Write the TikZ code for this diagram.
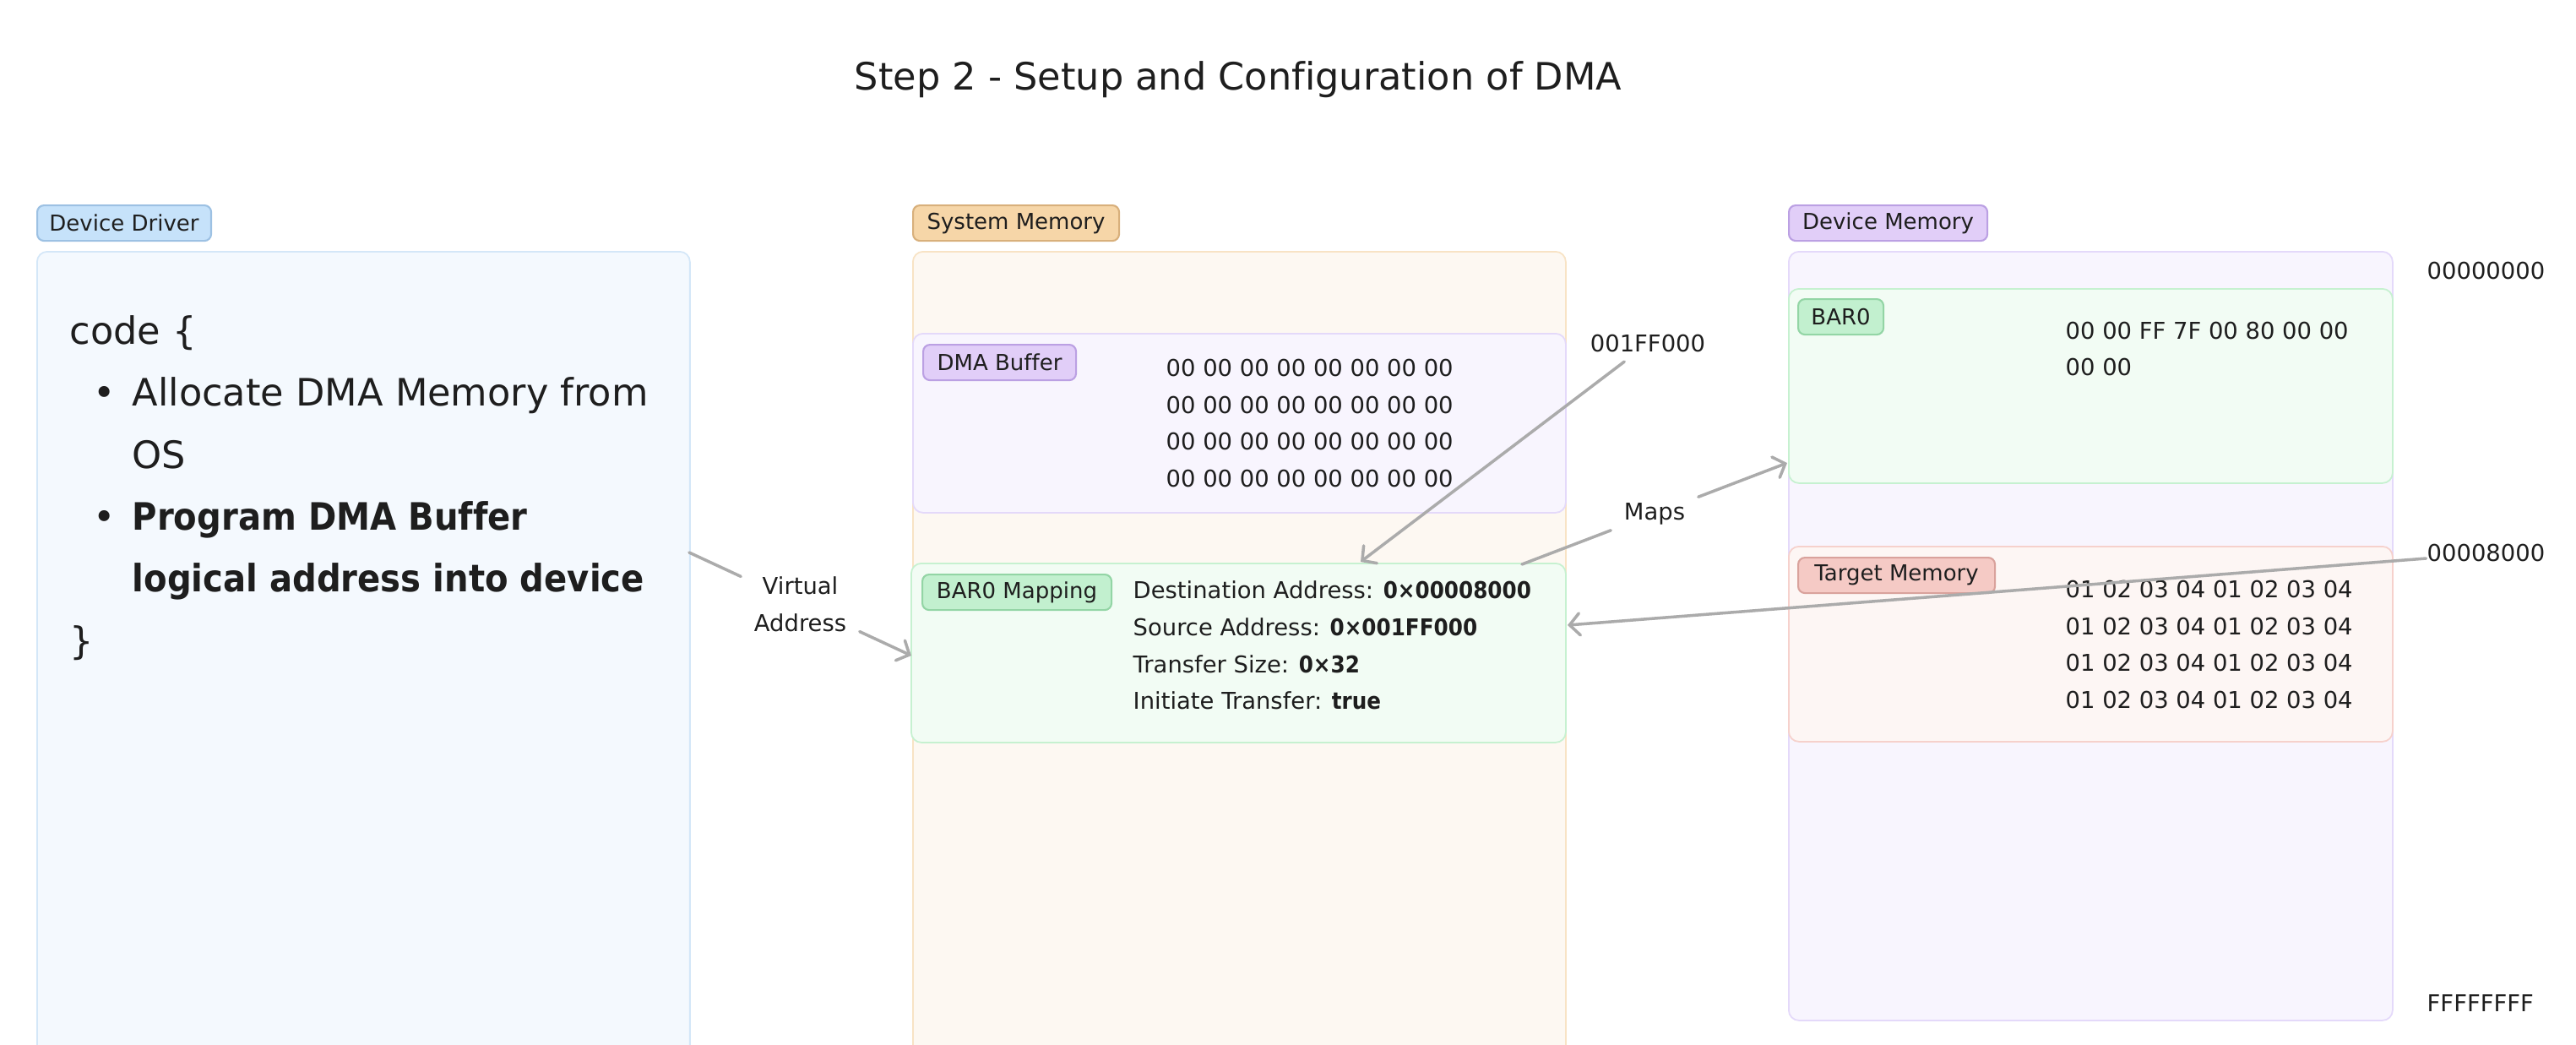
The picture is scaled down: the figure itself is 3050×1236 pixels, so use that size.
\documentclass[tikz,border=0pt]{standalone}
\usepackage{fontspec}
\setmainfont{DejaVu Sans}[Ligatures={NoCommon}, BoldFeatures={FakeStretch=0.9}]
\usetikzlibrary{calc,arrows.meta}

\definecolor{ink}{HTML}{1E1E1E}
\definecolor{wire}{HTML}{ABABAB}
\definecolor{drvtag}{HTML}{C6E2FA}  \definecolor{drvtagline}{HTML}{9DC1E3}
\definecolor{drvfill}{HTML}{F4F9FE} \definecolor{drvline}{HTML}{D4E7F8}
\definecolor{systag}{HTML}{F6D6A8}  \definecolor{systagline}{HTML}{D8B07C}
\definecolor{sysfill}{HTML}{FDF8F2} \definecolor{sysline}{HTML}{F8E3C5}
\definecolor{lilac}{HTML}{E1CEF8}   \definecolor{lilacline}{HTML}{BBA0E3}
\definecolor{lilacfill}{HTML}{F8F5FE} \definecolor{lilacedge}{HTML}{E4D9FA}
\definecolor{mint}{HTML}{C2F0CF}    \definecolor{mintline}{HTML}{93D5A5}
\definecolor{mintfill}{HTML}{F2FCF4} \definecolor{mintedge}{HTML}{C6F1D0}
\definecolor{rose}{HTML}{F5CAC5}    \definecolor{roseline}{HTML}{D9A29C}
\definecolor{rosefill}{HTML}{FDF6F4} \definecolor{roseedge}{HTML}{F6D1CC}

\newcommand{\bodyfont}{\fontsize{7.8}{12.4}\selectfont}
\newcommand{\tagfont}{\fontsize{7.4}{9}\selectfont}
\newcommand{\codefont}{\fontsize{12.7}{20.85}\selectfont}

\tikzset{
   tag/.style args={#1/#2}{fill=#1, draw=#2, line width=0.6pt, rounded corners=0.8mm,
      anchor=north west, inner xsep=1.4mm, inner ysep=0pt, minimum height=4.2mm, font=\tagfont},
   region/.style args={#1/#2}{fill=#1, draw=#2, line width=0.5pt, rounded corners=1.2mm,
      anchor=north west, inner sep=0pt},
   hex/.style={anchor=west, align=left, inner sep=0pt, font=\bodyfont},
   link/.style={wire, line width=1pt, line cap=round},
   tip/.style={-{Straight Barb[length=1.2mm,width=2.6mm,line cap=round]}}
}

\newcommand{\midarrowlabel}[4]{
   \node[font=\bodyfont, align=center, inner sep=1.5mm] (#4) at ($ (#1)!.5!(#2) $) {#3};
   \draw[link] (#1) -- (#4);
   \draw[link, tip] (#4) -- (#2);
}

\begin{document}
\begin{tikzpicture}[x=0.1mm, y=-0.1mm, color=ink]
		\useasboundingbox (0,0) rectangle (3050,1236);

		% Title
		\node[font=\fontsize{12.7}{15}\selectfont] (title) at (1466,94) {Step 2 - Setup and Configuration of DMA};

		% Device driver
		\node[region=drvfill/drvline, minimum width=77.3mm, minimum height=96mm] (drv) at (43,297) {};
		\node[tag=drvtag/drvtagline, minimum width=20.6mm] (drvtag) at (43,242) {Device Driver};
		\node[anchor=north west, align=left, inner sep=0pt, font=\codefont] (code) at (82,373) {code \{\\
			\hspace*{2.8mm}\makebox[4.6mm][l]{\textbullet}Allocate DMA Memory from\\
			\hspace*{7.4mm}OS\\
			\hspace*{2.8mm}\makebox[4.6mm][l]{\textbullet}\textbf{Program DMA Buffer}\\
			\hspace*{7.4mm}\textbf{logical address into device}\\
			\}};

		% System memory
		\node[region=sysfill/sysline, minimum width=77.3mm, minimum height=96mm] (sys) at (1080,297) {};
		\node[tag=systag/systagline, minimum width=24.4mm] (systag) at (1080,242) {System Memory};
		%
		\node[region=lilacfill/lilacedge, minimum width=77.3mm, minimum height=21.2mm] (buf) at (1080,394) {};
		\node[tag=lilac/lilacline, minimum width=18.1mm] (buftag) at (1092,407) {DMA Buffer};
		\node[hex] (bufhex) at (1380,501) {00 00 00 00 00 00 00 00\\00 00 00 00 00 00 00 00\\00 00 00 00 00 00 00 00\\00 00 00 00 00 00 00 00};
		%
		\node[region=mintfill/mintedge, minimum width=77.5mm, minimum height=21.2mm] (map) at (1078,666) {};
		\node[tag=mint/mintline, minimum width=22.4mm] (maptag) at (1091,679) {BAR0 Mapping};
		\node[hex] (mapregs) at (1341,764) {Destination Address: \textbf{0×00008000}\\Source Address: \textbf{0×001FF000}\\Transfer Size: \textbf{0×32}\\Initiate Transfer: \textbf{true}};

		% Device memory
		\node[region=lilacfill/lilacedge, minimum width=71.5mm, minimum height=91mm] (dev) at (2117,297) {};
		\node[tag=lilac/lilacline, minimum width=23.5mm] (devtag) at (2117,242) {Device Memory};
		%
		\node[region=mintfill/mintedge, minimum width=71.5mm, minimum height=23mm] (bar) at (2117,341) {};
		\node[tag=mint/mintline, minimum width=10.1mm] (bartag) at (2128,353) {BAR0};
		\node[hex] (barhex) at (2445,413) {00 00 FF 7F 00 80 00 00\\00 00};
		%
		\node[region=rosefill/roseedge, minimum width=71.5mm, minimum height=23.1mm] (tgt) at (2117,646) {};
		\node[tag=rose/roseline, minimum width=23.3mm] (tgttag) at (2128,659) {Target Memory};
		\node[hex] (tgthex) at (2445,763) {01 02 03 04 01 02 03 04\\01 02 03 04 01 02 03 04\\01 02 03 04 01 02 03 04\\01 02 03 04 01 02 03 04};

		% Addresses
		\node[hex] (addrlow) at (2873,321) {00000000};
		\node[hex] (addrtgt) at (2873,655) {00008000};
		\node[hex] (addrhigh) at (2873,1187) {FFFFFFFF};
		\node[font=\bodyfont, inner sep=1mm] (addrbuf) at (1951,407) {001FF000};

		% Arrows
		\coordinate (vstart) at (816,654);
		\coordinate (vend) at (1079,776);
		\midarrowlabel{vstart}{vend}{Virtual\\Address}{virt}
		%
		\coordinate (mstart) at (1802,668);
		\coordinate (mend) at (2116,548);
		\midarrowlabel{mstart}{mend}{Maps}{maps}
		%
		\coordinate (srcin) at (1611,665);
		\draw[link, tip] (addrbuf) -- (srcin);
		\coordinate (dstin) at (1856,740);
		\draw[link, tip] (addrtgt.west) ++(-0.5,6) coordinate (dstout) (dstout) -- (dstin);
	\end{tikzpicture}
\end{document}
